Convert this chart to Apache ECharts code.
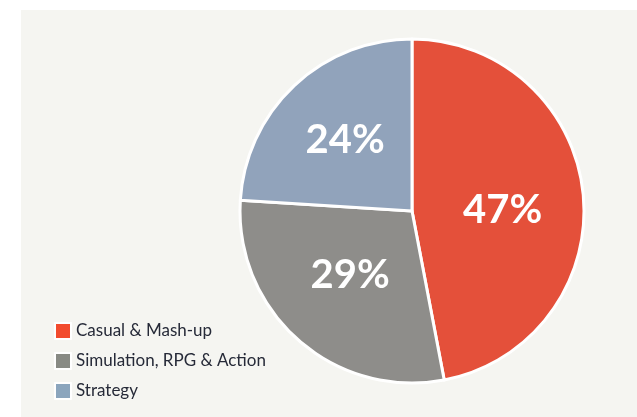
<!DOCTYPE html>
<html>
<head>
<meta charset="utf-8">
<script src="https://cdn.jsdelivr.net/npm/echarts@6/dist/echarts.min.js"></script>
<style>
  html, body { margin: 0; padding: 0; background: #ffffff; }
  #chart {
    position: absolute;
    left: 21px;
    top: 10px;
    width: 616px;
    height: 407px;
    background-color: #f5f5f1;
  }
</style>
</head>
<body>
<div id="chart"></div>
<script>
const categories = ['Casual & Mash-up', 'Simulation, RPG & Action', 'Strategy']
const shares = [47, 29, 24]
const sliceColors = ['#e4503a', '#8e8d8a', '#91a3bb']
const legendColors = ['#f24b2e', '#888a84', '#8ba5bd']
// small nudges so labels sit where the original put them
const labelOffsets = [[2, 7], [-3, -3], [-6, -6]]

const chart = echarts.init(document.getElementById('chart'))

chart.setOption({
    animation: false,
    legend: {
        orient: 'vertical',
        left: 33,
        top: 312,
        padding: 0,
        itemWidth: 16,
        itemHeight: 16,
        itemGap: 12,
        icon: 'rect',
        selectedMode: false,
        textStyle: { color: '#262a38', fontSize: 17, fontFamily: 'Lato', padding: [0, 0, 0, 0] },
        data: categories.map((name, i) => ({ name, itemStyle: { color: legendColors[i] } }))
    },
    series: [
        {
            type: 'pie',
            center: [391, 201],
            radius: 172,
            startAngle: 90,
            clockwise: true,
            label: {
                position: 'inside',
                formatter: '{c}%',
                color: '#ffffff',
                fontSize: 40,
                fontWeight: 'bold',
                fontFamily: 'Lato'
            },
            labelLine: { show: false },
            itemStyle: { borderColor: '#ffffff', borderWidth: 3 },
            emphasis: { disabled: true },
            data: categories.map((name, i) => ({
                name,
                value: shares[i],
                itemStyle: { color: sliceColors[i] },
                label: { offset: labelOffsets[i] }
            }))
        }
    ]
})
</script>
</body>
</html>
